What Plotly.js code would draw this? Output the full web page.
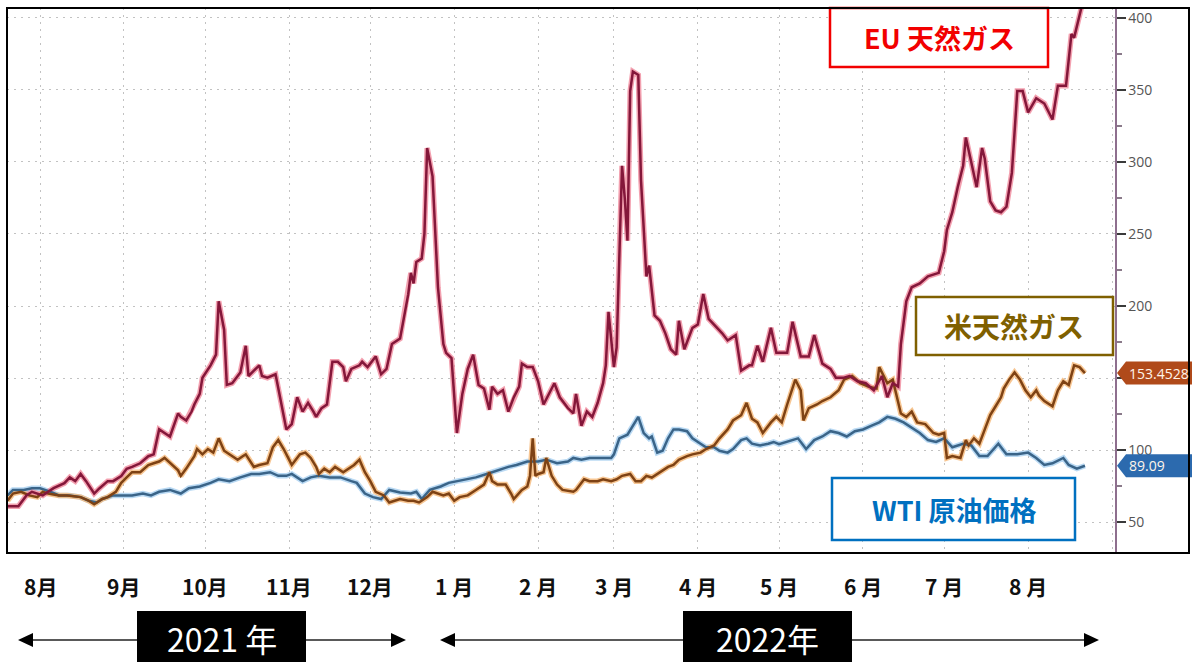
<!DOCTYPE html>
<html>
<head>
<meta charset="utf-8">
<script src="https://cdn.plot.ly/plotly-3.0.1.min.js"></script>
<style>
html,body{margin:0;padding:0;background:#fff;}
#chart{width:1192px;height:662px;}
</style>
</head>
<body>
<div id="chart"></div>
<script>
// ---- data (x = days since 2021-08-01) ----
const seriesNames = ['EU 天然ガス', '米天然ガス', 'WTI 原油価格'];
const yearLabels = ['2021 年', '2022年'];
const monthTicks = ['2021-08-01','2021-09-01','2021-10-01','2021-11-01','2021-12-01','2022-01-01','2022-02-01','2022-03-01','2022-04-01','2022-05-01','2022-06-01','2022-07-01','2022-08-01'];
const monthLabels = ['8月','9月','10月','11月','12月','1 月','2 月','3 月','4 月','5 月','6 月','7 月','8 月'];
const yTickVals = [50,100,150,200,250,300,350,400];
const yTickText = ['50','100','','200','250','300','350','400'];

const euDays = [-12,-8,-5,-3,1,5,9,11,13,15,17,20,22,25,27,30,32,34,37,40,42,44,46,48,51,52,54,56,57,59,60,63,65,66,68,69,71,74,76,77,79,81,82,84,87,89,91,93,95,97,99,101,102,104,106,108,110,112,113,115,118,119,121,124,126,128,130,133,136,137,138,139,141,142,143,145,147,149,150,152,154,156,158,160,162,164,166,167,169,171,173,175,177,178,180,182,184,186,188,190,192,195,197,198,200,202,204,206,208,209,210,212,213,214,215,216,217,218,219,221,222,224,225,227,229,231,233,235,236,238,241,243,245,247,249,252,254,257,259,262,263,265,267,270,272,276,278,281,284,286,289,292,294,297,299,302,305,308,311,313,315,317,318,320,322,325,328,330,332,334,335,337,339,341,342,344,346,348,349,351,353,355,357,359,361,363,365,368,371,374,376,379,381,382,383,385,387];
const euVals = [61,61,68.5,71,68.5,73.5,77,81,78.4,83.4,78.4,69.8,73.5,78.4,78.4,82,87,88.3,90.8,95.7,97,114.3,111.8,109.4,125.4,123,120.5,126.7,131.6,139,150.2,158.8,166.2,203.3,183.5,145.2,146.4,153.9,172.4,151.4,155.1,158.8,151.4,150.2,152.6,134,114.3,118,136.6,126.7,132.8,126.7,123,129.1,131.6,161.3,161.3,157.6,147.7,156.3,158.8,161.3,157.6,165,152.6,156.3,173.6,177.4,208,223,215.7,230.5,233,250.3,309.7,290,213,173.6,167.5,163.8,111.8,139,156.3,166.2,145.2,142.7,128,144,139,141.5,126.7,136.6,144,160,157.6,157.6,147.7,131.6,139,146.4,136.6,129.1,125.4,139,116.8,126.7,123,132.8,146.4,158.8,195.9,157.6,171.2,238,297.3,275,245.4,349.2,362.8,360.4,287.4,220.6,228,193.4,189.7,181,170,166.2,189.7,170,184.8,187.2,208.3,191,187.2,181,176.1,179.8,155.1,158.8,158.8,172.4,161.3,184.8,167.5,167.5,189,165,165,179.8,160,156.3,150.2,150.2,151.4,147.7,146.4,141.5,151.4,136.6,146.4,144,173.6,203.3,213,215.7,220.6,221.9,223,238,252.8,265.1,282.5,297.3,317,299.8,282.5,309.7,302.2,272.6,266.4,265.1,268.9,292.4,349.2,349.2,334.4,344.3,340.6,329.5,353,353,388.8,386.3,393.7,410,425];

const usDays = [-12,-10,-7,-4,-1,1,3,7,10,15,18,20,23,25,28,30,32,34,37,40,42,44,46,48,51,52,54,57,58,60,62,64,66,68,70,73,75,76,79,81,84,86,88,90,92,93,96,98,100,102,103,105,107,109,112,114,116,118,120,122,124,127,129,131,133,136,138,140,143,145,149,151,153,155,158,161,164,166,167,169,172,174,175,178,180,181,182,183,184,186,187,189,191,193,197,198,201,203,206,208,211,213,215,218,220,222,224,226,229,232,234,236,239,241,244,246,249,251,254,256,259,261,263,265,267,270,272,274,276,279,281,282,284,287,289,292,295,297,300,303,306,309,310,313,315,318,320,322,324,327,330,332,334,335,337,340,342,343,345,347,349,351,353,355,356,358,360,362,364,366,368,369,371,374,376,378,380,382,384,386];
const usVals = [64.8,69.8,71,68.5,67.3,71,69.8,68.5,68.5,67.3,64.8,62.4,66,67.3,71,77.2,81,84.6,84.6,89.6,90.8,92,94.5,90.8,85.9,82,87.1,95.8,100.7,97,100.7,98.2,108.1,99.5,97,93.3,95.8,97,88.3,89.6,90.8,101.9,106.9,100.7,93.3,89.6,97,98.2,94.5,88.3,83.4,87.1,84.6,88.3,84.6,87.1,89.6,93.3,84.6,78.4,71,68.5,63.6,64.8,66,64.8,64.8,63.6,67.3,71,68.5,69.8,64.8,67.3,68.5,72.3,76,84.6,78.4,76,76,69.8,66,72.3,74.7,82.1,108.1,82.1,83.4,84.6,94.5,82.1,76,72.3,71,72.3,79.7,78.4,78.4,79.7,78.4,79.7,82.1,83.4,78.4,78.4,82.1,80.9,84.6,88.3,89.6,93.3,95.8,97,98.2,100.7,103.2,108.1,114.3,120.5,124.2,132.8,121.7,119.2,111.8,119.2,123,119.2,131.6,148.9,141.5,120.5,129.1,131.6,134,136.6,141.5,148.9,151.4,146.4,144,142.7,157.6,146.4,148.9,125.4,123,126.7,119.2,118,111.8,110.6,111.8,94.5,95.8,94.5,106.9,103.2,108.1,104.4,114.3,124.2,130.4,136.6,142.7,148.9,153.9,148.9,141.5,136.6,141.5,137.9,134,130.4,141.5,147.7,145.2,158.8,157.6,153.4528];

const wtiDays = [-12,-10,-6,-3,0,4,7,11,15,18,21,23,27,31,34,38,41,44,48,52,55,59,63,66,70,74,78,81,85,88,91,93,97,100,103,107,111,115,117,120,123,126,129,133,137,139,141,144,148,151,154,158,161,165,169,173,176,180,184,187,191,195,197,200,203,207,211,212,214,217,219,221,223,225,226,228,230,232,234,236,239,241,244,246,249,251,254,256,259,261,263,266,269,271,273,276,280,283,286,289,292,295,298,301,304,307,310,313,316,319,322,325,328,331,334,337,341,344,347,350,354,357,361,365,368,371,374,378,380,383,386];
const wtiVals = [68.5,72.3,72.3,73.5,73.5,71,68.5,68.5,67.3,64.8,63.6,66,68.5,68.5,68.5,69.8,68.5,71,72.3,69.8,73.5,74.7,77.2,79.7,78.4,81,83.4,83.4,84.6,82.1,82.1,83.4,78.4,81,82.1,81,81,78.4,77.2,69.8,67.3,66,72.3,70.5,69.8,71,66,72.3,74.7,77.2,78.4,79.7,81,83.4,85.9,88.3,89.6,92,92,93.3,90.8,92,94.5,93.3,94.5,94.5,94.5,97,108.1,110.6,116.8,123,111.8,108.1,109.4,98.2,99.5,108.1,114.3,114.3,113.1,108.1,104.4,101.9,101.9,99.5,98.2,100.7,106.9,108.1,104.4,103.2,104.4,105.6,104,105.6,108.1,100.7,106.9,109.4,113.1,111.8,109.4,113.1,114.3,116.8,119.2,123,121.7,119.2,115.5,111.8,106.9,105.6,108.1,101.9,104.4,103.2,95.8,95.8,104.4,97,97,98.2,94.5,89.6,90.8,94.5,89.6,87.1,89.09];

// ---- helpers ----
const BASE = Date.UTC(2021, 7, 1);
function dayToDate(d){ return new Date(BASE + d*86400000).toISOString().slice(0,19).replace('T',' '); }
const L = 7, R = 1115, T = 8, B = 552;
const X = px => (px - L) / (R - L);
const Y = py => (B - py) / (B - T);

const euX = euDays.map(dayToDate), usX = usDays.map(dayToDate), wtiX = wtiDays.map(dayToDate);
const usLast = usVals[usVals.length-1], wtiLast = wtiVals[wtiVals.length-1];

function line(x, y, color, width, opacity){
  return {x, y, type:'scatter', mode:'lines', line:{color, width, shape:'linear'}, opacity, hoverinfo:'skip', showlegend:false};
}
const traces = [
  line(wtiX, wtiVals, '#a8d0f0', 5.5, 0.8),
  line(usX, usVals, '#f5b878', 5.5, 0.8),
  line(euX, euVals, '#f08a9c', 5.5, 0.8),
  line(wtiX, wtiVals, '#3a6488', 2.5, 1),
  line(usX, usVals, '#7e4214', 2.5, 1),
  line(euX, euVals, '#84173a', 2.5, 1)
];

const CJK = '"Noto Sans CJK JP", "Noto Sans", sans-serif';
const shapes = [];
const annotations = [];

function box(x0, x1, y0, y1, color, text, tx, ty, size){
  shapes.push({type:'rect', xref:'paper', yref:'paper', x0:X(x0), x1:X(x1), y0:Y(y1), y1:Y(y0),
    line:{color, width:2.5}, fillcolor:'#ffffff', layer:'above'});
  annotations.push({xref:'paper', yref:'paper', x:X(tx), y:Y(ty), text, showarrow:false,
    xanchor:'center', yanchor:'middle', font:{family:CJK, size, color, weight:700}});
}
box(830, 1048, 8, 67, '#f20000', seriesNames[0], 939, 37, 27);
box(916, 1113, 297, 355, '#7f6000', seriesNames[1], 1014, 326, 28);
box(832, 1075, 478, 540, '#0070c0', seriesNames[2], 954, 509, 27);

// value tags
function tag(v, color, text){
  const h = 8;
  shapes.push({type:'path', xref:'paper', yref:'y', layer:'above',
    path:`M ${X(1117)},${v} L ${X(1126)},${v+h} L ${X(1192)},${v+h} L ${X(1192)},${v-h} L ${X(1126)},${v-h} Z`,
    fillcolor:color, line:{color, width:0}});
  annotations.push({xref:'paper', yref:'y', x:X(1127), y:v, text, showarrow:false, xanchor:'left', yanchor:'middle',
    font:{family:'"Open Sans", sans-serif', size:14, color:'#fff5ea'}});
}
tag(usLast, '#b04a1a', String(usLast));
tag(wtiLast, '#2c6aae', String(wtiLast));

// month labels
monthTicks.forEach((m, i) => {
  annotations.push({xref:'x', yref:'paper', x:m, y:Y(586), text:monthLabels[i], showarrow:false,
    xanchor:'center', yanchor:'middle', font:{family:CJK, size:21, color:'#111111', weight:700}});
});

// year boxes and arrows
function yearBox(x0, x1, text){
  shapes.push({type:'rect', xref:'paper', yref:'paper', x0:X(x0), x1:X(x1), y0:Y(662), y1:Y(611),
    line:{width:0}, fillcolor:'#000000', layer:'above'});
  annotations.push({xref:'paper', yref:'paper', x:X((x0+x1)/2), y:Y(638), text, showarrow:false,
    xanchor:'center', yanchor:'middle', font:{family:CJK, size:32, color:'#ffffff'}});
}
yearBox(137, 306, yearLabels[0]);
yearBox(683, 852, yearLabels[1]);
function hline(x0, x1, y){
  shapes.push({type:'line', xref:'paper', yref:'paper', x0:X(x0), x1:X(x1), y0:Y(y), y1:Y(y), line:{color:'#222', width:1.6}});
}
function head(tip, dir, y){
  const b = tip + dir*15;
  shapes.push({type:'path', xref:'paper', yref:'paper',
    path:`M ${X(tip)},${Y(y)} L ${X(b)},${Y(y-7)} L ${X(b)},${Y(y+7)} Z`, fillcolor:'#000', line:{width:0}});
}
hline(25, 137, 640); head(18, 1, 640);
hline(306, 398, 640); head(406, -1, 640);
hline(448, 683, 640); head(440, 1, 640);
hline(852, 1090, 640); head(1099, -1, 640);

// outer frame
shapes.push({type:'rect', xref:'paper', yref:'paper', x0:X(7), x1:X(1189), y0:Y(553), y1:Y(8),
  line:{color:'#000', width:2}, fillcolor:'rgba(0,0,0,0)', layer:'above'});

const layout = {
  width:1192, height:662,
  margin:{l:L, r:1192-R, t:T, b:662-B, pad:0},
  paper_bgcolor:'#ffffff', plot_bgcolor:'#ffffff',
  showlegend:false,
  xaxis:{type:'date', range:[dayToDate(-12.2), dayToDate(397.1)], tick0:'2021-08-01', dtick:'M1',
    showticklabels:false, ticks:'', showgrid:true, gridcolor:'#c2c2c2', gridwidth:1, griddash:'2px,5px',
    zeroline:false, showline:false, fixedrange:true},
  yaxis:{side:'right', range:[29.2, 406.9], tickmode:'array', tickvals:yTickVals, ticktext:yTickText,
    ticks:'outside', ticklen:9, tickwidth:2, tickcolor:'#3a3a3a',
    minor:{tickmode:'linear', tick0:25, dtick:25, ticks:'outside', ticklen:5, tickcolor:'#8a7a8a', showgrid:false},
    showline:true, linecolor:'#8e6f8e', linewidth:1.5,
    showgrid:true, gridcolor:'#c2c2c2', gridwidth:1, griddash:'2px,5px', zeroline:false,
    tickfont:{family:'"Open Sans", sans-serif', size:14, color:'#555555'}, fixedrange:true},
  shapes, annotations
};

Plotly.newPlot('chart', traces, layout, {staticPlot:true, displayModeBar:false});
</script>
</body>
</html>
